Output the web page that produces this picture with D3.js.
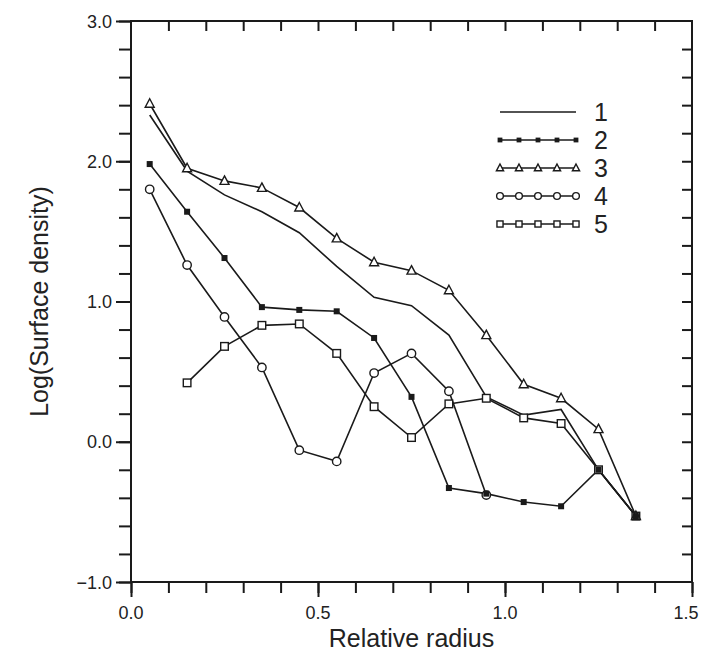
<!DOCTYPE html>
<html><head><meta charset="utf-8">
<script src="https://cdn.jsdelivr.net/npm/d3@7"></script>
<style>body{margin:0;background:#fff}svg{display:block}text{font-family:"Liberation Sans",Arial,sans-serif;fill:#222}</style>
</head><body><svg id="c" width="703" height="659"></svg>
<script>
const radius = [0.05,0.15,0.25,0.35,0.45,0.55,0.65,0.75,0.85,0.95,1.05,1.15,1.25,1.35];
const s1 = [2.33,1.93,1.76,1.64,1.49,1.25,1.03,0.97,0.76,0.32,0.19,0.23,-0.20,-0.53];
const s2 = [1.98,1.64,1.31,0.96,0.94,0.93,0.74,0.32,-0.33,-0.37,-0.43,-0.46,-0.20,-0.53];
const s3 = [2.41,1.95,1.86,1.81,1.67,1.45,1.28,1.22,1.08,0.76,0.41,0.31,0.09,-0.53];
const s4 = [1.80,1.26,0.89,0.53,-0.06,-0.14,0.49,0.63,0.36,-0.38];
const s5 = [null,0.42,0.68,0.83,0.84,0.63,0.25,0.03,0.27,0.31,0.17,0.13,-0.20,-0.53];
const seriesNames = ["1","2","3","4","5"];
const xTickLabels = ["0.0","0.5","1.0","1.5"];
const yTickLabels = ["-1.0","0.0","1.0","2.0","3.0"];

const svg = d3.select("#c");
const L=131,R=692,T=21,B=582;
const x = d3.scaleLinear().domain([0,1.5]).range([L,R]);
const y = d3.scaleLinear().domain([-1,3]).range([B,T]);
const ink="#1a1a1a";

svg.append("rect").attr("x",L).attr("y",T).attr("width",R-L).attr("height",B-T)
  .attr("fill","none").attr("stroke",ink).attr("stroke-width",2);

const xt = d3.range(0,16).map(i=>i/10);
const yt = d3.range(0,21).map(i=>-1+i*0.2);
const styleTicks = g=>{g.select(".domain").remove();g.selectAll("line").attr("stroke",ink).attr("stroke-width",2);};
svg.append("g").attr("transform",`translate(0,${B})`)
  .call(d3.axisBottom(x).tickValues(xt).tickSize(11).tickFormat("")).call(styleTicks);
svg.append("g").attr("transform",`translate(0,${B})`)
  .call(d3.axisBottom(x).tickValues(xTickLabels.map(Number)).tickSize(15).tickFormat("")).call(styleTicks);
svg.append("g").attr("transform",`translate(0,${T})`)
  .call(d3.axisBottom(x).tickValues(xt.slice(1,-1)).tickSize(10).tickFormat("")).call(styleTicks);
svg.append("g").attr("transform",`translate(${L},0)`)
  .call(d3.axisLeft(y).tickValues(yt).tickSize(12).tickFormat("")).call(styleTicks);
svg.append("g").attr("transform",`translate(${L},0)`)
  .call(d3.axisLeft(y).tickValues(yTickLabels.map(Number)).tickSize(15).tickFormat("")).call(styleTicks);
svg.append("g").attr("transform",`translate(${R},0)`)
  .call(d3.axisRight(y).tickValues(yt.slice(1,-1)).tickSize(-10).tickFormat("")).call(styleTicks);

xTickLabels.forEach(t=>{
  svg.append("text").attr("x",Math.min(x(+t),686)).attr("y",619).attr("text-anchor","middle")
    .attr("font-size",18).text(t);
});
yTickLabels.forEach(t=>{
  svg.append("text").attr("x",112).attr("y",y(+t)+6.5).attr("text-anchor","end")
    .attr("font-size",18).text(t.replace("-","\u2212"));
});
svg.append("text").attr("x",x(0.75)).attr("y",647).attr("text-anchor","middle")
  .attr("font-size",25).text("Relative radius");
svg.append("text").attr("transform",`translate(48,${y(1)}) rotate(-90)`).attr("text-anchor","middle")
  .attr("font-size",25).text("Log(Surface density)");

const mk = {
  "1": null,
  "2": (g,px,py,s)=>g.append("rect").attr("x",px-3*s).attr("y",py-3*s).attr("width",6*s).attr("height",6*s).attr("fill",ink),
  "3": (g,px,py,s)=>g.append("path").attr("d",`M${px},${py-5*s}L${px+4.5*s},${py+3.5*s}L${px-4.5*s},${py+3.5*s}Z`).attr("fill","#fff").attr("stroke",ink).attr("stroke-width",1.4),
  "4": (g,px,py,s)=>g.append("circle").attr("cx",px).attr("cy",py).attr("r",4.2*s).attr("fill","#fff").attr("stroke",ink).attr("stroke-width",1.4),
  "5": (g,px,py,s)=>g.append("rect").attr("x",px-3.8*s).attr("y",py-3.8*s).attr("width",7.6*s).attr("height",7.6*s).attr("fill","#fff").attr("stroke",ink).attr("stroke-width",1.4)
};
const all = [s1,s2,s3,s4,s5];
const line = d3.line().defined(d=>d[1]!=null).x(d=>x(d[0])).y(d=>y(d[1]));
const order=[0,4,3,2,1];
order.forEach(i=>{
  const pts = all[i].map((v,j)=>[radius[j],v]);
  svg.append("path").attr("d",line(pts)).attr("fill","none").attr("stroke",ink).attr("stroke-width",1.6);
});
order.forEach(i=>{
  const f=mk[seriesNames[i]]; if(!f) return;
  const g=svg.append("g");
  all[i].forEach((v,j)=>{ if(v!=null) f(g,x(radius[j]),y(v),1); });
});

seriesNames.forEach((n,i)=>{
  const ly=112+i*28;
  svg.append("line").attr("x1",500).attr("x2",576).attr("y1",ly).attr("y2",ly).attr("stroke",ink).attr("stroke-width",1.6);
  const f=mk[n];
  if(f){ const g=svg.append("g"); for(let k=0;k<5;k++) f(g,500+k*19,ly,0.8); }
  svg.append("text").attr("x",594).attr("y",ly+9).attr("font-size",25).text(n);
});
</script></body></html>
